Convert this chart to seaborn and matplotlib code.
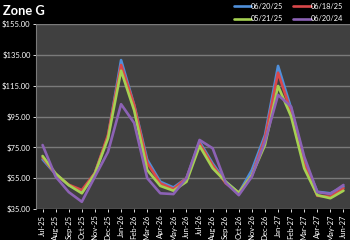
import matplotlib
matplotlib.use("Agg")
import matplotlib.pyplot as plt
import seaborn as sns
import pandas as pd
from matplotlib.ticker import FuncFormatter
from matplotlib.lines import Line2D

months = ["Jul-25", "Aug-25", "Sep-25", "Oct-25", "Nov-25", "Dec-25", "Jan-26", "Feb-26",
          "Mar-26", "Apr-26", "May-26", "Jun-26", "Jul-26", "Aug-26", "Sep-26", "Oct-26",
          "Nov-26", "Dec-26", "Jan-27", "Feb-27", "Mar-27", "Apr-27", "May-27", "Jun-27"]

s_062025 = [67.2, 57.5, 50.5, 46.0, 58.4, 82.0, 131.6, 102.5, 67.0, 52.7, 49.0, 55.0,
            78.7, 64.6, 52.7, 45.5, 60.3, 83.0, 127.8, 100.3, 66.8, 46.2, 45.2, 49.5]
s_061825 = [68.5, 57.5, 50.8, 47.3, 58.4, 83.0, 128.4, 102.5, 65.0, 51.7, 48.0, 55.0,
            77.6, 63.5, 51.7, 45.5, 57.0, 81.0, 123.4, 98.0, 64.6, 43.6, 43.0, 48.4]
s_052125 = [69.4, 58.0, 50.5, 45.2, 58.0, 80.8, 124.7, 99.0, 60.3, 50.0, 46.9, 52.7,
            75.9, 61.5, 52.7, 45.5, 57.0, 76.5, 114.8, 95.0, 61.4, 44.0, 42.0, 46.9]
s_062024 = [76.5, 56.0, 46.0, 39.7, 56.0, 72.0, 103.0, 90.8, 55.0, 45.2, 44.7, 55.0,
            79.8, 74.4, 52.0, 44.0, 56.0, 78.7, 109.0, 101.4, 69.0, 46.0, 44.8, 50.6]

series_names = ["06/20/25", "06/18/25", "05/21/25", "06/20/24"]
series_vals = [s_062025, s_061825, s_052125, s_062024]
colors = ["#4F8FDA", "#D9474A", "#A5D152", "#8C62B5"]

rows = []
for name, vals in zip(series_names, series_vals):
    for i, (m, v) in enumerate(zip(months, vals)):
        rows.append({"idx": i, "month": m, "price": v, "series": name})
df = pd.DataFrame(rows)

sns.set_theme(style="dark")
plt.rcParams['font.family'] = ['Lato', 'DejaVu Sans']

fig = plt.figure(figsize=(3.5, 2.4), dpi=100, facecolor="black")
ax = fig.add_axes([0.103, 0.129, 0.897, 0.771])
ax.set_facecolor("#404040")

sns.lineplot(data=df, x="idx", y="price", hue="series", hue_order=series_names,
             palette=colors, linewidth=1.9, ax=ax, legend=False, sort=False)

ax.set_xlim(-0.5, len(months) - 0.5)
ax.set_ylim(35, 155)
ax.set_yticks(range(35, 156, 20))
ax.yaxis.set_major_formatter(FuncFormatter(lambda v, p: f"${v:.2f}"))
ax.set_xticks(range(len(months)))
ax.set_xticklabels(months, rotation=90)
ax.tick_params(axis="both", colors="white", labelsize=5.5, length=2.5, width=0.6,
               pad=1.5, direction="out", bottom=True, left=True)
ax.grid(axis="y", color="#7a7a7a", linewidth=1.0)
ax.grid(axis="x", visible=False)
ax.set_xlabel("")
ax.set_ylabel("")
for side in ["top", "right", "bottom"]:
    ax.spines[side].set_visible(False)
ax.spines["left"].set_visible(True)
ax.spines["left"].set_color("#7a7a7a")
ax.spines["left"].set_linewidth(0.8)

fig.text(0.008, 0.953, "Zone G", color="white", fontsize=9.3, fontweight="bold",
         va="center", ha="left")

order = [0, 2, 1, 3]
handles = [Line2D([0], [0], color=colors[k], linewidth=1.9) for k in order]
labels = [series_names[k] for k in order]
leg = fig.legend(handles, labels, ncol=2, loc="upper right", bbox_to_anchor=(0.995, 1.01),
                 frameon=False, fontsize=5.3, labelcolor="white", handlelength=2.4,
                 handletextpad=0.0, columnspacing=1.3, labelspacing=0.75,
                 borderaxespad=0.3)

fig.savefig("out.png", dpi=100, facecolor="black")
